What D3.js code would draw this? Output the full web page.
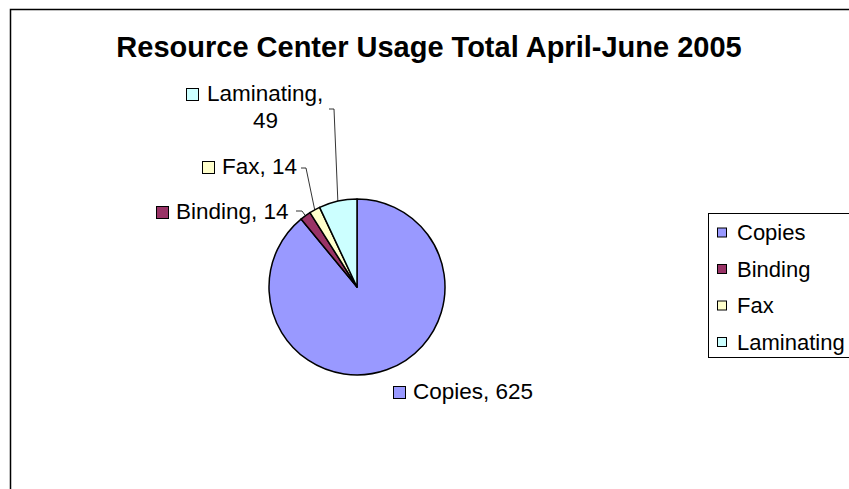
<!DOCTYPE html>
<html><head><meta charset="utf-8">
<script src="https://cdn.jsdelivr.net/npm/d3@7"></script>
<style>body{margin:0;background:#fff}svg{display:block}</style>
</head><body>
<svg id="c" width="849" height="489"></svg>
<script>
const categories = ["Copies", "Binding", "Fax", "Laminating"];
const values = [625, 14, 14, 49];
const colors = ["#9999FF", "#993366", "#FFFFCC", "#CCFFFF"];
const title = "Resource Center Usage Total April-June 2005";

const svg = d3.select("#c");
const font = "'Liberation Sans', Arial, sans-serif";

// chart area border (extends past right/bottom)
svg.append("rect").attr("x", 10.5).attr("y", 9.5).attr("width", 900).attr("height", 600)
  .attr("fill", "#fff").attr("stroke", "#000").attr("stroke-width", 1.5);

svg.append("text").attr("x", 429).attr("y", 57).attr("text-anchor", "middle")
  .attr("font-family", font).attr("font-weight", "bold").attr("font-size", 29).text(title);

const cx = 357, cy = 287, r = 88;
const pie = d3.pie().sort(null).value(d => d)(values);
const arc = d3.arc().innerRadius(0).outerRadius(r);
const g = svg.append("g").attr("transform", `translate(${cx},${cy})`);
g.selectAll("path").data(pie).join("path")
  .attr("d", arc).attr("fill", (d, i) => colors[i])
  .attr("stroke", "#000").attr("stroke-width", 1.5).attr("stroke-linejoin", "round");

// data labels
const fs = 22.5;
const labels = [
  {lines: [categories[0] + ", " + values[0]], sq: 393, x: 413, y: 399},
  {lines: [categories[1] + ", " + values[1]], sq: 156, x: 176, y: 219},
  {lines: [categories[2] + ", " + values[2]], sq: 202, x: 222, y: 174},
  {lines: [categories[3] + ",", String(values[3])], sq: 186, x: 207, y: 101, cx2: 265.5}
];
labels.forEach((L, i) => {
  svg.append("rect").attr("x", L.sq + 0.5).attr("y", L.y - 12.5).attr("width", 12).attr("height", 12)
    .attr("fill", colors[i]).attr("stroke", "#000").attr("stroke-width", 1);
  svg.append("text").attr("x", L.x).attr("y", L.y).attr("font-family", font).attr("font-size", fs)
    .text(L.lines[0]);
  if (L.lines[1]) {
    svg.append("text").attr("x", L.cx2).attr("y", L.y + 27).attr("text-anchor", "middle")
      .attr("font-family", font).attr("font-size", fs).text(L.lines[1]);
  }
});

// leader lines anchored on slice edges
function edgePt(i) {
  const d = pie[i];
  const a = (d.startAngle + d.endAngle) / 2;
  return [cx + r * Math.sin(a), cy - r * Math.cos(a)];
}
const leaders = [
  {i: 1, pts: [[296, 211], [302, 211]]},
  {i: 2, pts: [[301, 168], [306, 168]]},
  {i: 3, pts: [[329, 109], [334, 109]]}
];
leaders.forEach(Ld => {
  const e = edgePt(Ld.i);
  svg.append("path").attr("d", d3.line()([...Ld.pts, e]))
    .attr("fill", "none").attr("stroke", "#000").attr("stroke-width", 0.8);
});

// legend
svg.append("rect").attr("x", 708.5).attr("y", 213.5).attr("width", 200).attr("height", 144)
  .attr("fill", "#fff").attr("stroke", "#000").attr("stroke-width", 1);
const lg = svg.append("g");
categories.forEach((c, i) => {
  const y = 232.5 + i * 36.5;
  lg.append("rect").attr("x", 717.5).attr("y", y - 4.5).attr("width", 9).attr("height", 9)
    .attr("fill", colors[i]).attr("stroke", "#000").attr("stroke-width", 1);
  lg.append("text").attr("x", 737).attr("y", y + 7.5).attr("font-family", font).attr("font-size", 22).text(c);
});
</script>
</body></html>
